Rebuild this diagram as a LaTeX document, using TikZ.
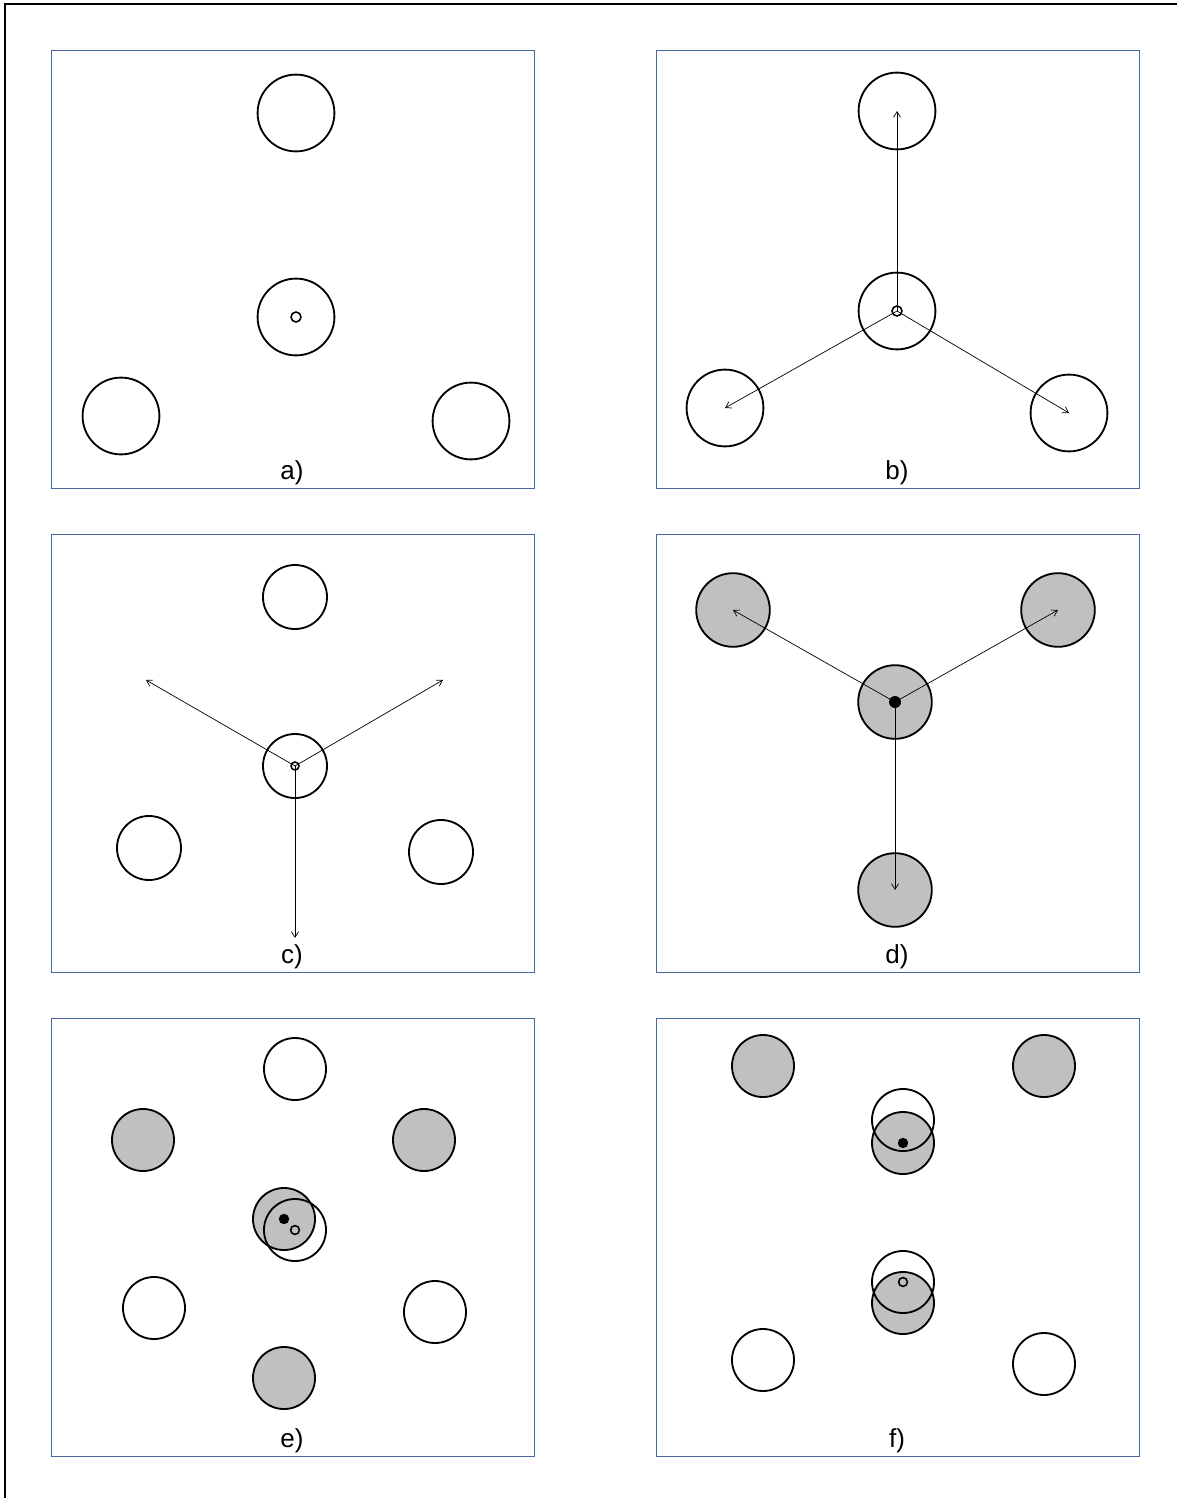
\documentclass[tikz,border=0pt]{standalone}
\usepackage{fontspec}
\setmainfont{Liberation Sans}
\usetikzlibrary{arrows.meta}
\definecolor{framecol}{RGB}{70,106,158}
\definecolor{discgrey}{RGB}{192,192,192}
\begin{document}
\begin{tikzpicture}[x=0.025cm,y=-0.025cm,>={Straight Barb[length=4pt,width=5pt]},
    font=\fontsize{18.5}{21}\selectfont]
    \tikzset{
        panel/.style={draw=framecol,line width=0.6pt},
        disc/.style={circle,draw,line width=1.3pt,inner sep=0pt,minimum size=#1},
        disc/.default=1.55cm,
        grey/.style={fill=discgrey},
        hole/.style={circle,draw,line width=1.1pt,inner sep=0pt,minimum size=#1},
        hole/.default=0.22cm,
        dot/.style={circle,fill=black,inner sep=0pt,minimum size=#1},
        dot/.default=0.26cm,
        move/.style={->,line width=0.5pt},
        tag/.style={anchor=base}
    }
    \useasboundingbox (0,0) rectangle (1177,1498);
    \draw[line width=1.3pt] (5,1498) -- (5,4) -- (1177,4);

    % frames and their letters
    \foreach \px/\py/\lab in {51/50/a, 656/50/b, 51/534/c, 656/534/d, 51/1018/e, 656/1018/f}{
        \draw[panel] (\px,\py) rectangle ++(483,438);
        \node[tag] (lab-\lab) at (\px+241,\py+429) {\lab)};
    }

    % a)
    \node[disc=1.92cm] (a1) at (296,113) {};
    \node[disc=1.92cm] (a0) at (296,317) {};
    \node[disc=1.92cm] (a2) at (121,416) {};
    \node[disc=1.92cm] (a3) at (471,421) {};
    \node[hole=0.25cm] (a0h) at (a0) {};

    % b)
    \node[disc=1.92cm] (b1) at (897,111) {};
    \node[disc=1.92cm] (b0) at (897,311) {};
    \node[disc=1.92cm] (b2) at (725,408) {};
    \node[disc=1.92cm] (b3) at (1069,413) {};
    \foreach \t in {b1,b2,b3}
        \draw[move] (b0.center) -- (\t.center);
    \node[hole=0.25cm] (b0h) at (b0) {};

    % c)
    \node[disc=1.6cm] (c1) at (295,597) {};
    \node[disc=1.6cm] (c0) at (295,766) {};
    \node[disc=1.6cm] (c2) at (149,848) {};
    \node[disc=1.6cm] (c3) at (441,852) {};
    \coordinate (c4) at (146,680);
    \coordinate (c5) at (443,680);
    \coordinate (c6) at (295,938);
    \foreach \t in {c4,c5,c6}
        \draw[move] (c0.center) -- (\t);
    \node[hole=0.2cm] (c0h) at (c0) {};

    % d)
    \node[disc=1.84cm,grey] (d1) at (733,610) {};
    \node[disc=1.84cm,grey] (d2) at (1058,610) {};
    \node[disc=1.84cm,grey] (d0) at (895,702) {};
    \node[disc=1.84cm,grey] (d3) at (895,890) {};
    \foreach \t in {d1,d2,d3}
        \draw[move] (d0.center) -- (\t.center);
    \node[dot=0.3cm] (d0d) at (d0) {};

    % e)
    \node[disc] (e1) at (295,1069) {};
    \node[disc,grey] (e2) at (143,1140) {};
    \node[disc,grey] (e3) at (424,1140) {};
    \node[disc,grey] (e0) at (284,1219) {};
    \node[disc] (e5) at (295,1230) {};
    \node[disc] (e6) at (154,1308) {};
    \node[disc] (e7) at (435,1312) {};
    \node[disc,grey] (e4) at (284,1378) {};
    \node[dot] (e0d) at (e0) {};
    \node[hole] (e5h) at (e5) {};

    % f)
    \node[disc,grey] (f1) at (763,1066) {};
    \node[disc,grey] (f2) at (1044,1066) {};
    \node[disc,grey] (f0) at (903,1143) {};
    \node[disc] (f3) at (903,1120) {};
    \node[disc,grey] (f4) at (903,1303) {};
    \node[disc] (f5) at (903,1282) {};
    \node[disc] (f6) at (763,1360) {};
    \node[disc] (f7) at (1044,1364) {};
    \node[dot] (f0d) at (f0) {};
    \node[hole] (f5h) at (f5) {};
\end{tikzpicture}
\end{document}
